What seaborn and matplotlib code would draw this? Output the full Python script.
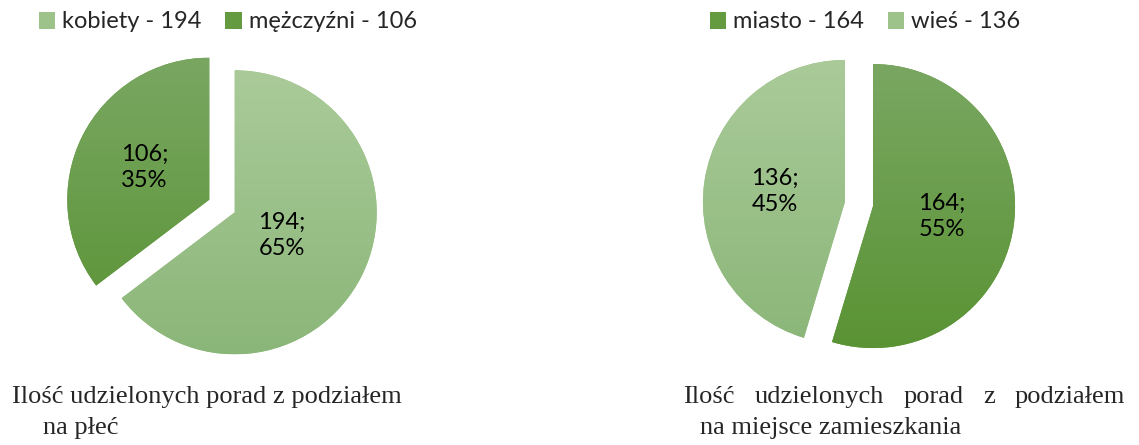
import numpy as np
import matplotlib
matplotlib.use("Agg")
import matplotlib.pyplot as plt
import seaborn as sns
from matplotlib.colors import LinearSegmentedColormap

# data
plec_labels = ['kobiety', 'mężczyźni']
plec_values = [194, 106]
miejsce_labels = ['miasto', 'wieś']
miejsce_values = [164, 136]

caption_left = ['Ilość udzielonych porad z podziałem', 'na płeć']
caption_right = ['Ilość udzielonych porad z podziałem', 'na miejsce zamieszkania']

# (top, middle, bottom) of the vertical gradient
light = ('#aacb99', '#9dc38a', '#8bb679')
dark = ('#79a762', '#649b40', '#5a9334')

sns.set_theme(style='white')
plt.rcParams['font.family'] = ['Lato', 'DejaVu Sans']

W, H = 1139, 445
fig = plt.figure(figsize=(W / 100, H / 100), dpi=100)

R = 142      # pie radius in px
LIM = 1.3


def pie_axes(cx, cy):
    side = 2 * LIM * R
    return fig.add_axes([(cx - side / 2) / W, (H - cy - side / 2) / H, side / W, side / H])


def draw_pie(ax, values, labels, colors, label_dist):
    wedges, _ = ax.pie(values, colors=[c[1] for c in colors], startangle=90,
                       counterclock=False, explode=[0.1] * len(values),
                       wedgeprops=dict(linewidth=0))
    grad = np.linspace(0, 1, 256).reshape(-1, 1)
    total = sum(values)
    for w, c, v, d in zip(wedges, colors, values, label_dist):
        cmap = LinearSegmentedColormap.from_list('g', [c[0], c[2]])
        cy = w.center[1]
        im = ax.imshow(grad, cmap=cmap, extent=[-LIM, LIM, cy - 1, cy + 1],
                       aspect='auto', origin='upper', zorder=w.get_zorder() + 0.1)
        im.set_clip_path(w)
        th = np.deg2rad((w.theta1 + w.theta2) / 2)
        x = w.center[0] + d * np.cos(th)
        y = w.center[1] + d * np.sin(th)
        ax.text(x, y, f'{v};\n{round(100 * v / total)}%', ha='center', va='center',
                fontsize=17, linespacing=1.3, color='black', zorder=10)
    ax.set_xlim(-LIM, LIM)
    ax.set_ylim(-LIM, LIM)
    ax.set_aspect('equal')
    ax.axis('off')
    return wedges


ax1 = pie_axes(222, 206)
w1 = draw_pie(ax1, plec_values, plec_labels, [light, dark], [0.37, 0.51])
ax2 = pie_axes(859, 204)
w2 = draw_pie(ax2, miejsce_values, miejsce_labels, [dark, light], [0.49, 0.5])

leg_kw = dict(loc='center', ncol=2, frameon=False, fontsize=17, handlelength=0.7,
              handleheight=0.7, handletextpad=0.3, columnspacing=1.0)
fig.legend(w1, [f'{l} - {v}' for l, v in zip(plec_labels, plec_values)],
           bbox_to_anchor=(228 / W, 1 - 22 / H), **leg_kw)
fig.legend(w2, [f'{l} - {v}' for l, v in zip(miejsce_labels, miejsce_values)],
           bbox_to_anchor=(865 / W, 1 - 22 / H), **leg_kw)

serif = dict(family=['Liberation Serif', 'DejaVu Serif'], fontsize=19, va='baseline')

# left caption
fig.text(12 / W, 1 - 403 / H, caption_left[0], **serif)
fig.text(43 / W, 1 - 434 / H, caption_left[1], **serif)

# right caption, first line justified between 683 and 1125 px
words = caption_right[0].split()
texts = [fig.text(0, 1 - 403 / H, wd, **serif) for wd in words]
renderer = fig.canvas.get_renderer()
widths = [t.get_window_extent(renderer).width for t in texts]
gap = (1125 - 683 - sum(widths)) / (len(words) - 1)
x = 683
for t, wd in zip(texts, widths):
    t.set_x(x / W)
    x += wd + gap
fig.text(700 / W, 1 - 434 / H, caption_right[1], **serif)

fig.savefig('out.png', dpi=100)
